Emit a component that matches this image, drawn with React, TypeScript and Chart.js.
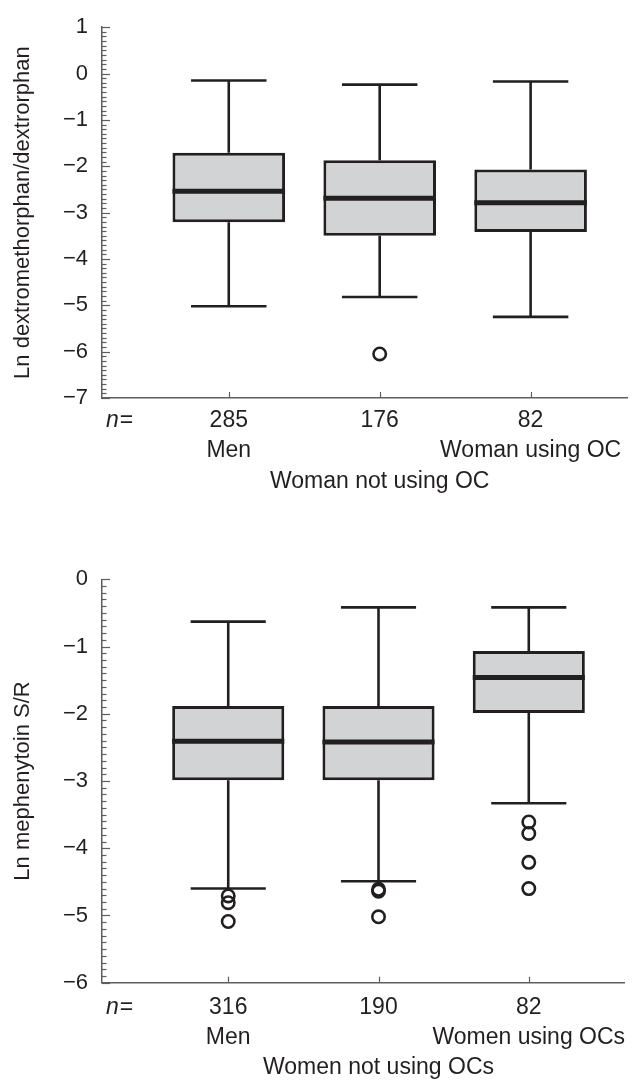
import React, { useEffect, useRef } from "react";
import { Chart, registerables } from "chart.js";

Chart.register(...registerables);

const FONT = "'Liberation Sans', Arial, Helvetica, sans-serif";
const INK = "#231f20";
const AXIS = "#5e5e5e";
const BOX_FILL = "#d1d3d4";

// ---------- Chart A: dextromethorphan ----------
const aTitle = "Ln dextromethorphan/dextrorphan";
const aGroups = ["Men", "Woman not using OC", "Woman using OC"];
const aN = ["285", "176", "82"];
const aLow = [-5.02, -4.82, -5.25];
const aQ1 = [-3.21, -3.5, -3.42];
const aMed = [-2.54, -2.69, -2.79];
const aQ3 = [-1.71, -1.87, -2.07];
const aHigh = [-0.15, -0.24, -0.17];
const aOutliers = [[], [-6.05], []];
const aYRange = [-7, 1];

// ---------- Chart B: mephenytoin ----------
const bTitle = "Ln mephenytoin S/R";
const bGroups = ["Men", "Women not using OCs", "Women using OCs"];
const bN = ["316", "190", "82"];
const bLow = [-4.6, -4.49, -3.33];
const bQ1 = [-2.99, -2.99, -1.99];
const bMed = [-2.41, -2.42, -1.46];
const bQ3 = [-1.885, -1.885, -1.067];
const bHigh = [-0.63, -0.417, -0.417];
const bOutliers = [
  [-4.71, -4.81, -5.09],
  [-4.61, -4.64, -5.02],
  [-3.61, -3.78, -4.21, -4.6],
];
const bYRange = [-6, 0];

// row (0-based after the n line) on which each group name is written
const groupRow = [1, 2, 1];

type Spec = {
  title: string;
  groups: string[];
  n: string[];
  low: number[];
  q1: number[];
  med: number[];
  q3: number[];
  high: number[];
  outliers: number[][];
  yRange: number[];
  topPad: number;
  xAxisHeight: number;
  labelPad: number;
};

const LABEL_SIZE = 23;
const LABEL_LH = 1.32;
const BOX_HALF = 0.373;
const CAP_HALF = 0.25;

function makeDecor(spec: Spec) {
  return {
    id: "decor",
    afterDraw(chart: any) {
      const { ctx, chartArea, scales } = chart;
      const y = scales.y;
      const x = scales.x;
      ctx.save();
      ctx.strokeStyle = AXIS;
      ctx.lineWidth = 1.2;
      const steps = Math.round((y.max - y.min) / 0.1);
      for (let k = 0; k <= steps; k++) {
        const v = y.min + k * 0.1;
        const py = Math.round(y.getPixelForValue(v)) + 0.5;
        const len = k % 10 === 0 ? 8 : 4.5;
        ctx.beginPath();
        ctx.moveTo(chartArea.left, py);
        ctx.lineTo(chartArea.left + len, py);
        ctx.stroke();
      }
      x.ticks.forEach((t: any) => {
        const px = Math.round(x.getPixelForValue(t.value)) + 0.5;
        ctx.beginPath();
        ctx.moveTo(px, chartArea.bottom);
        ctx.lineTo(px, chartArea.bottom - 6);
        ctx.stroke();
      });
      const lh = LABEL_SIZE * LABEL_LH;
      const ty = x.top + spec.labelPad + lh / 2;
      const nx = chartArea.left + 4;
      ctx.fillStyle = INK;
      ctx.textBaseline = "middle";
      ctx.textAlign = "left";
      ctx.font = `italic ${LABEL_SIZE}px ${FONT}`;
      ctx.fillText("n", nx, ty);
      const w = ctx.measureText("n").width;
      ctx.font = `${LABEL_SIZE}px ${FONT}`;
      ctx.fillText("=", nx + w + 1, ty);
      ctx.restore();
    },
  };
}

function BoxChart({ spec, width, height }: { spec: Spec; width: number; height: number }) {
  const ref = useRef<HTMLCanvasElement | null>(null);
  useEffect(() => {
    if (!ref.current) return;
    const idx = spec.groups.map((_, i) => i);
    const whiskers: any[] = [];
    idx.forEach((i) => {
      whiskers.push({ x: i, y: spec.q3[i] }, { x: i, y: spec.high[i] }, { x: i, y: null });
      whiskers.push({ x: i - CAP_HALF, y: spec.high[i] }, { x: i + CAP_HALF, y: spec.high[i] }, { x: i, y: null });
      whiskers.push({ x: i, y: spec.q1[i] }, { x: i, y: spec.low[i] }, { x: i, y: null });
      whiskers.push({ x: i - CAP_HALF, y: spec.low[i] }, { x: i + CAP_HALF, y: spec.low[i] }, { x: i, y: null });
    });
    const medians: any[] = [];
    idx.forEach((i) => {
      medians.push({ x: i - BOX_HALF, y: spec.med[i] }, { x: i + BOX_HALF, y: spec.med[i] }, { x: i, y: null });
    });
    const outPts: any[] = [];
    idx.forEach((i) => spec.outliers[i].forEach((v) => outPts.push({ x: i, y: v })));

    const labels = idx.map((i) => {
      const lines = [spec.n[i]];
      for (let r = 1; r < groupRow[i]; r++) lines.push("");
      lines.push(spec.groups[i]);
      return lines;
    });

    const chart = new Chart(ref.current, {
      type: "bar",
      data: {
        datasets: [
          {
            type: "scatter",
            data: outPts,
            pointRadius: 6.2,
            pointHoverRadius: 6.2,
            borderWidth: 2.6,
            pointBorderColor: INK,
            pointBackgroundColor: "rgba(0,0,0,0)",
            borderColor: INK,
            backgroundColor: "rgba(0,0,0,0)",
            order: 0,
          } as any,
          {
            type: "line",
            data: medians,
            borderColor: INK,
            borderWidth: 5,
            pointRadius: 0,
            spanGaps: false,
            borderCapStyle: "butt",
            order: 1,
          } as any,
          {
            type: "line",
            data: whiskers,
            borderColor: INK,
            borderWidth: 2.6,
            pointRadius: 0,
            spanGaps: false,
            borderCapStyle: "butt",
            order: 2,
          } as any,
          {
            type: "bar",
            data: idx.map((i) => ({ x: i, y: [spec.q1[i], spec.q3[i]] })),
            backgroundColor: BOX_FILL,
            borderColor: INK,
            borderWidth: 3,
            borderSkipped: false,
            barPercentage: 0.746,
            categoryPercentage: 1,
            order: 3,
          } as any,
        ],
      },
      options: {
        responsive: false,
        animation: false,
        events: [],
        layout: { padding: { top: spec.topPad, left: 0, right: 8, bottom: 0 } },
        plugins: { legend: { display: false }, tooltip: { enabled: false } },
        scales: {
          x: {
            type: "linear",
            min: -0.84,
            max: 2.64,
            offset: false,
            grid: { display: false, drawTicks: false },
            border: { display: true, color: AXIS, width: 1.5 },
            afterBuildTicks: (s: any) => {
              s.ticks = idx.map((i) => ({ value: i }));
            },
            afterFit: (s: any) => {
              s.height = spec.xAxisHeight;
            },
            ticks: {
              autoSkip: false,
              maxRotation: 0,
              minRotation: 0,
              padding: spec.labelPad,
              color: INK,
              font: { family: FONT, size: LABEL_SIZE, lineHeight: LABEL_LH },
              callback: (v: any) => labels[Math.round(Number(v))] as any,
            },
          },
          y: {
            type: "linear",
            min: spec.yRange[0],
            max: spec.yRange[1],
            grid: { display: false, drawTicks: false },
            border: { display: true, color: AXIS, width: 1.5 },
            afterFit: (s: any) => {
              s.width = 102;
            },
            ticks: {
              stepSize: 1,
              padding: 14,
              color: INK,
              font: { family: FONT, size: 22 },
              callback: (v: any) => (Number(v) < 0 ? "\u2212" + Math.abs(Number(v)) : String(v)),
            },
            title: {
              display: true,
              text: spec.title,
              color: INK,
              font: { family: FONT, size: 22 },
              padding: { top: 10, bottom: 0 },
            },
          },
        },
      },
      plugins: [makeDecor(spec)],
    } as any);
    return () => chart.destroy();
  }, [spec, width, height]);
  return (
    <div style={{ width, height, position: "relative" }}>
      <canvas ref={ref} width={width} height={height} style={{ width, height, display: "block" }} />
    </div>
  );
}

const specA: Spec = {
  title: aTitle,
  groups: aGroups,
  n: aN,
  low: aLow,
  q1: aQ1,
  med: aMed,
  q3: aQ3,
  high: aHigh,
  outliers: aOutliers,
  yRange: aYRange,
  topPad: 22.7,
  xAxisHeight: 541 - 398,
  labelPad: 7.3,
};

const specB: Spec = {
  title: bTitle,
  groups: bGroups,
  n: bN,
  low: bLow,
  q1: bQ1,
  med: bMed,
  q3: bQ3,
  high: bHigh,
  outliers: bOutliers,
  yRange: bYRange,
  topPad: 38.3,
  xAxisHeight: 541 - 441.7,
  labelPad: 9.3,
};

export default function App() {
  return (
    <div style={{ position: "absolute", left: 0, top: 0, width: 636, height: 1082, background: "#fff" }}>
      <BoxChart spec={specA} width={636} height={541} />
      <BoxChart spec={specB} width={636} height={541} />
    </div>
  );
}
